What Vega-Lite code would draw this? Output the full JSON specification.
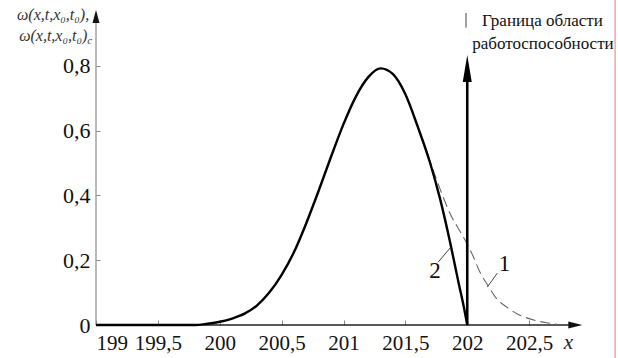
{
  "$schema": "https://vega.github.io/schema/vega-lite/v6.json",
  "autosize": "none",
  "width": 495,
  "height": 324,
  "padding": {"left": 96, "top": 1, "right": 27, "bottom": 33},
  "background": "white",
  "config": {
    "view": {"stroke": null},
    "font": "Liberation Serif",
    "axis": {"grid": false, "domain": false, "labelOverlap": false, "tickColor": "#888", "tickWidth": 1}
  },
  "datasets": {
    "curve2": [
      {"x": 199, "y": 0}, {"x": 199.5, "y": 0}, {"x": 199.8, "y": 0}, {"x": 199.9, "y": 0.004},
      {"x": 200.0, "y": 0.01}, {"x": 200.1, "y": 0.02}, {"x": 200.2, "y": 0.035}, {"x": 200.3, "y": 0.06},
      {"x": 200.4, "y": 0.1}, {"x": 200.5, "y": 0.155}, {"x": 200.6, "y": 0.225}, {"x": 200.7, "y": 0.315},
      {"x": 200.8, "y": 0.415}, {"x": 200.9, "y": 0.52}, {"x": 201.0, "y": 0.62}, {"x": 201.1, "y": 0.705},
      {"x": 201.2, "y": 0.765}, {"x": 201.3, "y": 0.792}, {"x": 201.4, "y": 0.774}, {"x": 201.5, "y": 0.712},
      {"x": 201.6, "y": 0.612}, {"x": 201.7, "y": 0.5}, {"x": 201.78, "y": 0.39}, {"x": 201.86, "y": 0.258},
      {"x": 201.93, "y": 0.13}, {"x": 201.97, "y": 0.06}, {"x": 202.0, "y": 0}
    ],
    "curve1": [
      {"x": 201.6, "y": 0.612}, {"x": 201.7, "y": 0.505}, {"x": 201.78, "y": 0.42}, {"x": 201.86, "y": 0.345},
      {"x": 201.94, "y": 0.29}, {"x": 202.0, "y": 0.25}, {"x": 202.05, "y": 0.21}, {"x": 202.1, "y": 0.165},
      {"x": 202.17, "y": 0.12}, {"x": 202.24, "y": 0.08}, {"x": 202.32, "y": 0.055}, {"x": 202.4, "y": 0.035},
      {"x": 202.48, "y": 0.022}, {"x": 202.56, "y": 0.013}, {"x": 202.64, "y": 0.007}, {"x": 202.72, "y": 0.003}
    ],
    "segs": [
      {"part": "xaxis", "x": 199, "y": 0, "x2": 202.9, "y2": 0},
      {"part": "yaxis", "x": 199, "y": 0, "x2": 199, "y2": 0.96},
      {"part": "bound", "x": 202, "y": 0, "x2": 202, "y2": 0.8},
      {"part": "dash", "x": 201.99, "y": 0.918, "x2": 201.99, "y2": 0.963},
      {"part": "lead", "x": 201.765, "y": 0.194, "x2": 201.862, "y2": 0.238},
      {"part": "lead", "x": 202.162, "y": 0.117, "x2": 202.243, "y2": 0.16},
      {"part": "frame", "x": 203.195, "y": -0.11, "x2": 203.195, "y2": 1.01}
    ],
    "heads": [
      {"part": "yaxis", "x": 199, "y": 0.972},
      {"part": "bound", "x": 202, "y": 0.833},
      {"part": "xaxis", "x": 202.93, "y": 0}
    ],
    "notes": [
      {"part": "num", "text": "2", "x": 201.74, "y": 0.167},
      {"part": "num", "text": "1", "x": 202.3, "y": 0.188},
      {"part": "bound", "text": "Граница области", "x": 202.12, "y": 0.938},
      {"part": "bound", "text": "работоспособности", "x": 202.04, "y": 0.867},
      {"part": "ytitle", "text": "ω(x,t,x₀,t₀),", "x": 198.945, "y": 0.958},
      {"part": "ytitle", "text": "ω(x,t,x₀,t₀)", "x": 198.93, "y": 0.893},
      {"part": "ysub", "text": "c", "x": 198.93, "y": 0.878}
    ]
  },
  "layer": [
    {
      "data": {"name": "segs"},
      "transform": [{"filter": "datum.part === 'frame'"}],
      "mark": {"type": "rule", "color": "#f2a4a4", "strokeWidth": 1.5, "clip": false},
      "encoding": {
        "x": {"field": "x", "type": "quantitative", "scale": {"domain": [199, 203], "nice": false, "zero": false},
          "axis": {"values": [199, 199.5, 200, 200.5, 201, 201.5, 202, 202.5], "labelExpr": "replace(format(datum.value, '.1~f'), '.', ',')", "labelFont": "Liberation Serif", "labelFontSize": 21, "labelColor": "#111", "tickSize": -5, "labelPadding": 12, "title": "x", "titleFont": "Liberation Serif", "titleFontStyle": "italic", "titleFontWeight": "normal", "titleFontSize": 21, "titleColor": "#222", "titleX": 472, "titleY": 17, "titleBaseline": "middle", "titleAlign": "center"}},
        "y": {"field": "y", "type": "quantitative", "scale": {"domain": [0, 1], "nice": false},
          "axis": {"values": [0, 0.2, 0.4, 0.6, 0.8], "labelExpr": "datum.value === 0 ? '0' : replace(format(datum.value, '.1f'), '.', ',')", "labelFont": "Liberation Serif", "labelFontSize": 22, "labelColor": "#111", "tickSize": -4, "labelPadding": 10, "title": null}},
        "x2": {"field": "x2"},
        "y2": {"field": "y2"}
      }
    },
    {
      "data": {"name": "segs"},
      "transform": [{"filter": "datum.part === 'yaxis'"}],
      "mark": {"type": "rule", "color": "#8a8a8a", "strokeWidth": 1.2, "clip": false},
      "encoding": {"x": {"field": "x", "type": "quantitative"}, "y": {"field": "y", "type": "quantitative"}, "x2": {"field": "x2"}, "y2": {"field": "y2"}}
    },
    {
      "data": {"name": "segs"},
      "transform": [{"filter": "datum.part === 'xaxis'"}],
      "mark": {"type": "rule", "color": "#222", "strokeWidth": 1.3, "clip": false},
      "encoding": {"x": {"field": "x", "type": "quantitative"}, "y": {"field": "y", "type": "quantitative"}, "x2": {"field": "x2"}, "y2": {"field": "y2"}}
    },
    {
      "data": {"name": "curve1"},
      "mark": {"type": "line", "color": "#666", "strokeWidth": 1.1, "strokeDash": [10, 5], "interpolate": "monotone"},
      "encoding": {"x": {"field": "x", "type": "quantitative"}, "y": {"field": "y", "type": "quantitative"}}
    },
    {
      "data": {"name": "curve2"},
      "mark": {"type": "line", "color": "#000", "strokeWidth": 2.4, "interpolate": "monotone"},
      "encoding": {"x": {"field": "x", "type": "quantitative"}, "y": {"field": "y", "type": "quantitative"}}
    },
    {
      "data": {"name": "segs"},
      "transform": [{"filter": "datum.part === 'bound'"}],
      "mark": {"type": "rule", "color": "#000", "strokeWidth": 2.6, "clip": false},
      "encoding": {"x": {"field": "x", "type": "quantitative"}, "y": {"field": "y", "type": "quantitative"}, "x2": {"field": "x2"}, "y2": {"field": "y2"}}
    },
    {
      "data": {"name": "segs"},
      "transform": [{"filter": "datum.part === 'dash' || datum.part === 'lead'"}],
      "mark": {"type": "rule", "color": "#444", "strokeWidth": 1, "clip": false},
      "encoding": {"x": {"field": "x", "type": "quantitative"}, "y": {"field": "y", "type": "quantitative"}, "x2": {"field": "x2"}, "y2": {"field": "y2"}}
    },
    {
      "data": {"name": "heads"},
      "transform": [{"filter": "datum.part === 'yaxis'"}],
      "mark": {"type": "point", "shape": "M0,0L-1,3.7L1,3.7Z", "size": 49, "filled": true, "color": "#111", "opacity": 1, "clip": false},
      "encoding": {"x": {"field": "x", "type": "quantitative"}, "y": {"field": "y", "type": "quantitative"}}
    },
    {
      "data": {"name": "heads"},
      "transform": [{"filter": "datum.part === 'bound'"}],
      "mark": {"type": "point", "shape": "M0,0L-1,6L1,6Z", "size": 81, "filled": true, "color": "#000", "opacity": 1, "clip": false},
      "encoding": {"x": {"field": "x", "type": "quantitative"}, "y": {"field": "y", "type": "quantitative"}}
    },
    {
      "data": {"name": "heads"},
      "transform": [{"filter": "datum.part === 'xaxis'"}],
      "mark": {"type": "point", "shape": "M0,0L-4,-1L-4,1Z", "size": 49, "filled": true, "color": "#111", "opacity": 1, "clip": false},
      "encoding": {"x": {"field": "x", "type": "quantitative"}, "y": {"field": "y", "type": "quantitative"}}
    },
    {
      "data": {"name": "notes"},
      "transform": [{"filter": "datum.part === 'num'"}],
      "mark": {"type": "text", "font": "Liberation Serif", "fontSize": 23, "color": "#111", "align": "center", "baseline": "middle"},
      "encoding": {"x": {"field": "x", "type": "quantitative"}, "y": {"field": "y", "type": "quantitative"}, "text": {"field": "text"}}
    },
    {
      "data": {"name": "notes"},
      "transform": [{"filter": "datum.part === 'bound'"}],
      "mark": {"type": "text", "font": "Liberation Serif", "fontSize": 17, "color": "#111", "align": "left", "baseline": "middle"},
      "encoding": {"x": {"field": "x", "type": "quantitative"}, "y": {"field": "y", "type": "quantitative"}, "text": {"field": "text"}}
    },
    {
      "data": {"name": "notes"},
      "transform": [{"filter": "datum.part === 'ytitle'"}],
      "mark": {"type": "text", "font": "Liberation Serif", "fontSize": 16, "fontStyle": "italic", "color": "#333", "align": "right", "baseline": "middle"},
      "encoding": {"x": {"field": "x", "type": "quantitative"}, "y": {"field": "y", "type": "quantitative"}, "text": {"field": "text"}}
    },
    {
      "data": {"name": "notes"},
      "transform": [{"filter": "datum.part === 'ysub'"}],
      "mark": {"type": "text", "font": "Liberation Serif", "fontSize": 11, "fontStyle": "italic", "color": "#333", "align": "left", "baseline": "middle"},
      "encoding": {"x": {"field": "x", "type": "quantitative"}, "y": {"field": "y", "type": "quantitative"}, "text": {"field": "text"}}
    }
  ]
}
